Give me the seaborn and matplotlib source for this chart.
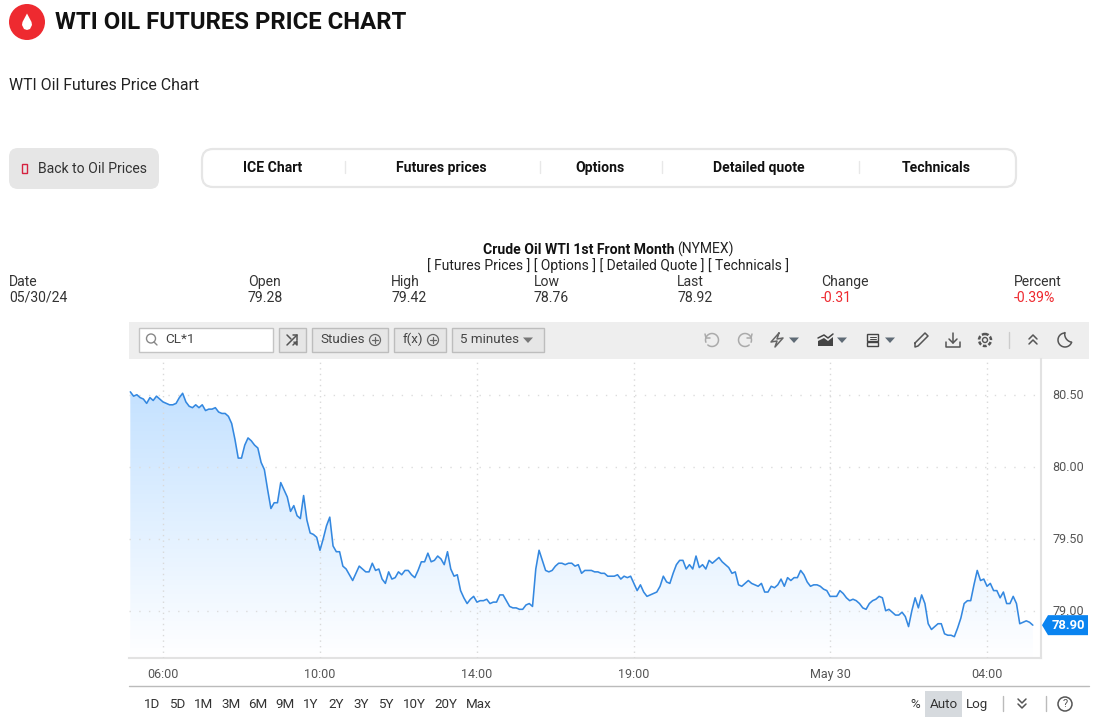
import numpy as np
import pandas as pd
import matplotlib
matplotlib.use('Agg')
import matplotlib.pyplot as plt
from matplotlib.patches import Rectangle, FancyBboxPatch, Circle, Polygon
from matplotlib.transforms import ScaledTranslation
import seaborn as sns

# 5 minute closes
prices = [
    80.52, 80.49, 80.50, 80.48, 80.47, 80.44, 80.48, 80.46, 80.49, 80.47,
    80.45, 80.44, 80.43, 80.43, 80.44, 80.48, 80.51, 80.45, 80.42, 80.41,
    80.43, 80.41, 80.43, 80.39, 80.40, 80.40, 80.41, 80.38, 80.37, 80.37,
    80.35, 80.30, 80.19, 80.06, 80.06, 80.15, 80.20, 80.18, 80.15, 80.13,
    80.03, 79.98, 79.84, 79.71, 79.75, 79.75, 79.89, 79.84, 79.79, 79.69,
    79.73, 79.66, 79.64, 79.80, 79.63, 79.54, 79.53, 79.51, 79.42, 79.50,
    79.59, 79.65, 79.45, 79.41, 79.41, 79.31, 79.29, 79.25, 79.21, 79.26,
    79.31, 79.29, 79.27, 79.27, 79.33, 79.28, 79.29, 79.22, 79.19, 79.27,
    79.22, 79.23, 79.27, 79.25, 79.28, 79.28, 79.25, 79.23, 79.28, 79.34,
    79.34, 79.40, 79.34, 79.35, 79.38, 79.36, 79.32, 79.41, 79.29, 79.24,
    79.25, 79.14, 79.09, 79.05, 79.08, 79.10, 79.06, 79.07, 79.07, 79.08,
    79.05, 79.06, 79.06, 79.11, 79.11, 79.07, 79.03, 79.02, 79.02, 79.01,
    79.01, 79.04, 79.05, 79.03, 79.29, 79.42, 79.35, 79.28, 79.27, 79.28,
    79.31, 79.33, 79.33, 79.32, 79.33, 79.33, 79.31, 79.32, 79.26, 79.28,
    79.28, 79.28, 79.27, 79.27, 79.26, 79.26, 79.24, 79.24, 79.24, 79.25,
    79.22, 79.24, 79.23, 79.24, 79.19, 79.14, 79.18, 79.13, 79.10, 79.11,
    79.12, 79.13, 79.17, 79.24, 79.20, 79.19, 79.26, 79.32, 79.35, 79.35,
    79.29, 79.32, 79.29, 79.38, 79.30, 79.32, 79.29, 79.35, 79.33, 79.35,
    79.37, 79.34, 79.32, 79.30, 79.26, 79.27, 79.18, 79.17, 79.19, 79.21,
    79.19, 79.18, 79.17, 79.19, 79.13, 79.13, 79.17, 79.16, 79.18, 79.22,
    79.17, 79.23, 79.21, 79.23, 79.23, 79.28, 79.25, 79.20, 79.17, 79.18,
    79.18, 79.17, 79.15, 79.14, 79.10, 79.10, 79.10, 79.14, 79.12, 79.09,
    79.07, 79.08, 79.07, 79.05, 79.02, 79.01, 79.05, 79.07, 79.08, 79.10,
    79.09, 79.00, 79.01, 78.99, 78.97, 78.97, 78.99, 78.96, 78.89, 79.00,
    79.09, 79.02, 79.11, 79.05, 78.91, 78.87, 78.89, 78.91, 78.91, 78.84,
    78.83, 78.83, 78.82, 78.88, 78.95, 79.05, 79.07, 79.07, 79.18, 79.28,
    79.21, 79.22, 79.17, 79.19, 79.14, 79.14, 79.09, 79.13, 79.05, 79.05,
    79.10, 79.05, 78.91, 78.92, 78.93, 78.92, 78.90,
]
time_ticks = [10, 58, 106, 154, 214, 262]
time_labels = ['06:00', '10:00', '14:00', '19:00', 'May 30', '04:00']
price_ticks = [79.0, 79.5, 80.0, 80.5]
last_label = '78.90'

columns = ['Date', 'Open', 'High', 'Low', 'Last', 'Change', 'Percent']
column_values = ['05/30/24', '79.28', '79.42', '78.76', '78.92', '-0.31', '-0.39%']
tabs = ['ICE Chart', 'Futures prices', 'Options', 'Detailed quote', 'Technicals']
ranges = ['1D', '5D', '1M', '3M', '6M', '9M', '1Y', '2Y', '3Y', '5Y', '10Y', '20Y', 'Max']

W, H = 1096, 723
RED = '#ee2a30'
BLUE = '#3488e0'
ICON = '#666666'

sns.set_theme(style='white')
plt.rcParams['font.family'] = ['Roboto', 'DejaVu Sans']

fig = plt.figure(figsize=(W / 100, H / 100), dpi=100)

# page furniture lives on a full size axes in pixel coordinates
page = fig.add_axes([0, 0, 1, 1], zorder=0)
page.set_xlim(0, W)
page.set_ylim(H, 0)
page.axis('off')


def box(x0, y0, x1, y1, face, edge='none', radius=0, lw=1, z=1):
    if radius:
        p = FancyBboxPatch((x0 + radius, y0 + radius), x1 - x0 - 2 * radius, y1 - y0 - 2 * radius,
                           boxstyle='round,pad=%f,rounding_size=%f' % (radius, radius),
                           facecolor=face, edgecolor=edge, linewidth=lw, zorder=z)
    else:
        p = Rectangle((x0, y0), x1 - x0, y1 - y0, facecolor=face, edgecolor=edge, linewidth=lw, zorder=z)
    page.add_patch(p)


def label(x, y, s, size=10.1, color='#222222', weight='normal', ha='left', z=3):
    page.text(x, y + 1.2, s, fontsize=size, color=color, fontweight=weight, ha=ha, va='center', zorder=z)


def seg(xs, ys, color=ICON, lw=1.1, z=3):
    page.plot(xs, ys, color=color, lw=lw, zorder=z, solid_capstyle='round', solid_joinstyle='round')


def caret(x, y, color='#5f6b76'):
    page.add_patch(Polygon([(x - 5, y - 2.5), (x + 5, y - 2.5), (x, y + 3)], facecolor=color, edgecolor='none', zorder=3))


def plus_circle(x, y):
    page.add_patch(Circle((x, y), 5.5, facecolor='none', edgecolor=ICON, lw=0.9, zorder=3))
    seg([x - 3, x + 3], [y, y], lw=0.9)
    seg([x, x], [y - 3, y + 3], lw=0.9)


def ring(x, y, r, t0, t1, color):
    t = np.radians(np.linspace(t0, t1, 40))
    seg(x + r * np.cos(t), y + r * np.sin(t), color=color)


# header
page.add_patch(Circle((27, 22), 18, facecolor=RED, edgecolor='none', zorder=2))
page.add_patch(Polygon([(27, 13.5), (31.5, 22), (32, 25), (30, 29), (27, 30), (24, 29), (22, 25), (22.5, 22)],
                       facecolor='white', edgecolor='none', zorder=3))
label(55, 21.5, 'WTI OIL FUTURES PRICE CHART', size=17.2, color='#111111', weight='bold')
label(9, 84, 'WTI Oil Futures Price Chart', size=11.45)

# back button and tab bar
box(9, 148, 159, 189, '#e6e6e6', radius=9)
page.add_patch(Rectangle((21.5, 163.5), 5, 9, facecolor='none', edgecolor='#d5213f', lw=1, zorder=3))
label(38, 167.5, 'Back to Oil Prices', size=10.1, color='#333333')
box(202, 149, 1016, 187, 'white', edge='#e6e6e6', radius=11, lw=1.6)
for x, s in zip([273, 441, 599.5, 759, 936.5], tabs):
    label(x, 166.5, s, size=10.1, color='#111111', weight='bold', ha='center')
for x in [345, 540, 662, 859]:
    seg([x, x], [161, 173], color='#e8e8e8', lw=1)

# quote table
label(483, 248.5, 'Crude Oil WTI 1st Front Month', size=10.1, color='#111111', weight='bold')
label(677, 248.5, '(NYMEX)', size=10, color='#222222')
label(608, 264.5, '[ Futures Prices ] [ Options ] [ Detailed Quote ] [ Technicals ]', size=10.02, ha='center')
for x, s, v in zip([9, 248, 391, 534, 677, 821, 1014], columns, column_values):
    label(x, 280.5, s, size=10.1, color='#333333')
    label(x, 296.5, v, size=10.1, color=RED if v.startswith('-') else '#333333')

# toolbar
box(129, 322, 1089, 359, '#eeeeee')
box(139, 328, 273, 352, 'white', edge='#c4c4c4')
page.add_patch(Circle((151, 338.5), 4.5, facecolor='none', edgecolor='#888888', lw=1, zorder=3))
seg([154, 157], [342, 345], color='#888888', lw=1)
label(165, 338.5, 'CL*1', size=9.7, color='#444444')
for x0, x1 in [(279, 306), (312, 388), (394, 446), (452, 544)]:
    box(x0, 328, x1, 352, '#e6e6e6', edge='#bdbdbd')
seg([287, 297], [345, 335], color='#555555')
seg([292.5, 297, 297], [335, 335, 339.5], color='#555555')
seg([287, 291], [335, 339], color='#555555')
seg([294, 297, 297, 293], [342, 345, 341, 345], color='#555555')
label(320, 338.5, 'Studies', size=9.6, color='#444444')
plus_circle(375, 340)
label(403, 338.5, 'f(x)', size=9.6, color='#444444')
plus_circle(433, 340)
label(460, 338.5, '5 minutes', size=9.6, color='#444444')
caret(528, 340, '#777777')

# right hand toolbar icons
ring(712, 340, 6.5, -200, 130, '#aaaaaa')
seg([705, 706, 710], [334, 338, 338], color='#aaaaaa')
ring(745, 340, 6.5, 50, 380, '#aaaaaa')
seg([752, 751, 747], [334, 338, 338], color='#aaaaaa')
seg([779, 771, 777, 775, 783, 777, 779], [333, 342, 341, 347, 338, 339, 333])
caret(794, 340)
page.add_patch(Polygon([(818, 346), (818, 341), (824, 338), (828, 341), (833, 337), (833, 346)],
                       facecolor='#444444', edgecolor='none', zorder=3))
seg([818, 824, 828, 833], [338, 335, 338, 334], color='#444444')
caret(842, 340)
box(867, 334, 878, 341, 'none', edge='#444444')
box(867, 342, 878, 346, 'none', edge='#444444')
seg([870, 876], [336.5, 336.5], color='#444444', lw=0.7)
seg([870, 876], [339, 339], color='#444444', lw=0.7)
caret(890, 340)
seg([915, 925, 928, 918, 915, 915], [343, 333, 336, 346, 347, 343], color='#555555')
seg([953, 953], [333, 343], color='#555555')
seg([949, 953, 957], [339, 343, 339], color='#555555')
seg([946, 946, 960, 960], [342, 347, 347, 342], color='#555555')
page.add_patch(Circle((985, 340), 6, facecolor='none', edgecolor='#555555', lw=1.8, linestyle=(0, (1.5, 0.8)), zorder=3))
page.add_patch(Circle((985, 340), 2.5, facecolor='none', edgecolor='#555555', lw=1, zorder=3))
seg([1009, 1009], [332, 348], color='#cccccc', lw=1)
seg([1029, 1033, 1037], [339, 335, 339], color='#555555')
seg([1029, 1033, 1037], [344, 340, 344], color='#555555')
ring(1065, 340, 7, 20, 270, '#555555')
ring(1073, 334, 8.3, 100, 190, '#555555')

# bottom range row
seg([129, 1089], [685.5, 685.5], color='#bbbbbb', lw=1)
for x, s in zip([152, 177, 204, 231, 258, 285, 311, 336, 361, 386, 414, 446, 479], ranges):
    label(x, 703, s, size=9.6, color='#333333', ha='center')
label(915, 703, '%', size=9.6, color='#333333', ha='center')
box(925, 691, 962, 717, '#d6dade')
label(943.5, 703, 'Auto', size=9.6, color='#333333', ha='center')
label(977, 703, 'Log', size=9.6, color='#333333', ha='center')
seg([1003, 1003], [696, 711], color='#bbbbbb', lw=1)
seg([1018, 1022, 1026], [699, 703, 699], color='#555555')
seg([1018, 1022, 1026], [704, 708, 704], color='#555555')
seg([1046, 1046], [696, 711], color='#bbbbbb', lw=1)
page.add_patch(Circle((1065, 704), 7, facecolor='none', edgecolor='#555555', lw=1.1, zorder=3))
label(1065, 703, '?', size=8, color='#555555', ha='center')

# price chart
ax = fig.add_axes([129 / W, 1 - 658 / H, (1041 - 129) / W, (658 - 359) / H], zorder=1)
ax.patch.set_alpha(0)
df = pd.DataFrame({'bar': np.arange(len(prices)), 'price': prices})
sns.lineplot(data=df, x='bar', y='price', ax=ax, color=BLUE, linewidth=1.15, zorder=4)

# area fill: vertical gradient clipped to the area under the line
area = ax.fill_between(df['bar'], df['price'], 78.672, facecolor='none', edgecolor='none')
top_col = np.array([0.77, 0.885, 1.0])
frac = np.linspace(0, 1, 256)[:, None]
grad = top_col[None, :] * (1 - frac) + np.array([1.0, 1.0, 1.0])[None, :] * frac
img = ax.imshow(grad[:, None, :], extent=[-0.4, 278.5, 78.672, 80.52], aspect='auto', zorder=1, origin='upper')
img.set_clip_path(area.get_paths()[0], transform=ax.transData)
ax.set_xlim(-0.4, 278.5)
ax.set_ylim(78.672, 80.748)

ax.set_xticks(time_ticks)
ax.set_xticklabels(time_labels)
ax.set_yticks(price_ticks)
ax.set_yticklabels(['%.2f' % p for p in price_ticks])
ax.yaxis.tick_right()
ax.tick_params(axis='y', length=0, pad=8, labelsize=9, labelcolor='#555555')
ax.tick_params(axis='x', length=4, width=1, color='#e0e0e0', pad=3.5, labelsize=9, labelcolor='#555555')
for t in ax.get_yticklabels():
    t.set_transform(t.get_transform() + ScaledTranslation(0, 1.2 / 100, fig.dpi_scale_trans))
ax.set_xlabel('')
ax.set_ylabel('')
ax.xaxis.grid(True, color='#d9d9d9', linestyle=(0, (1, 3)), linewidth=1)
ax.yaxis.grid(True, color='#dcdcdc', linestyle=(0, (1, 6)), linewidth=1)
ax.set_axisbelow(False)
for line in ax.get_xgridlines() + ax.get_ygridlines():
    line.set_zorder(2)
for side in ['top', 'left']:
    ax.spines[side].set_visible(False)
for side in ['bottom', 'right']:
    ax.spines[side].set_color('#e2e2e2')
    ax.spines[side].set_linewidth(1.5)

# last price tag follows the last close
tag_y = H - ax.transData.transform((0, prices[-1]))[1]
tag_ax = fig.add_axes([0, 0, 1, 1], zorder=2)
tag_ax.set_xlim(0, W)
tag_ax.set_ylim(H, 0)
tag_ax.axis('off')
tag_ax.add_patch(Polygon([(1042, tag_y), (1048, tag_y - 10), (1088, tag_y - 10), (1088, tag_y + 10), (1048, tag_y + 10)],
                         facecolor='#0a84f0', edgecolor='none'))
tag_ax.text(1068, tag_y + 0.5, last_label, color='white', fontsize=9.4, fontweight='bold', ha='center', va='center')

fig.savefig('out.png', dpi=100, facecolor='white')
